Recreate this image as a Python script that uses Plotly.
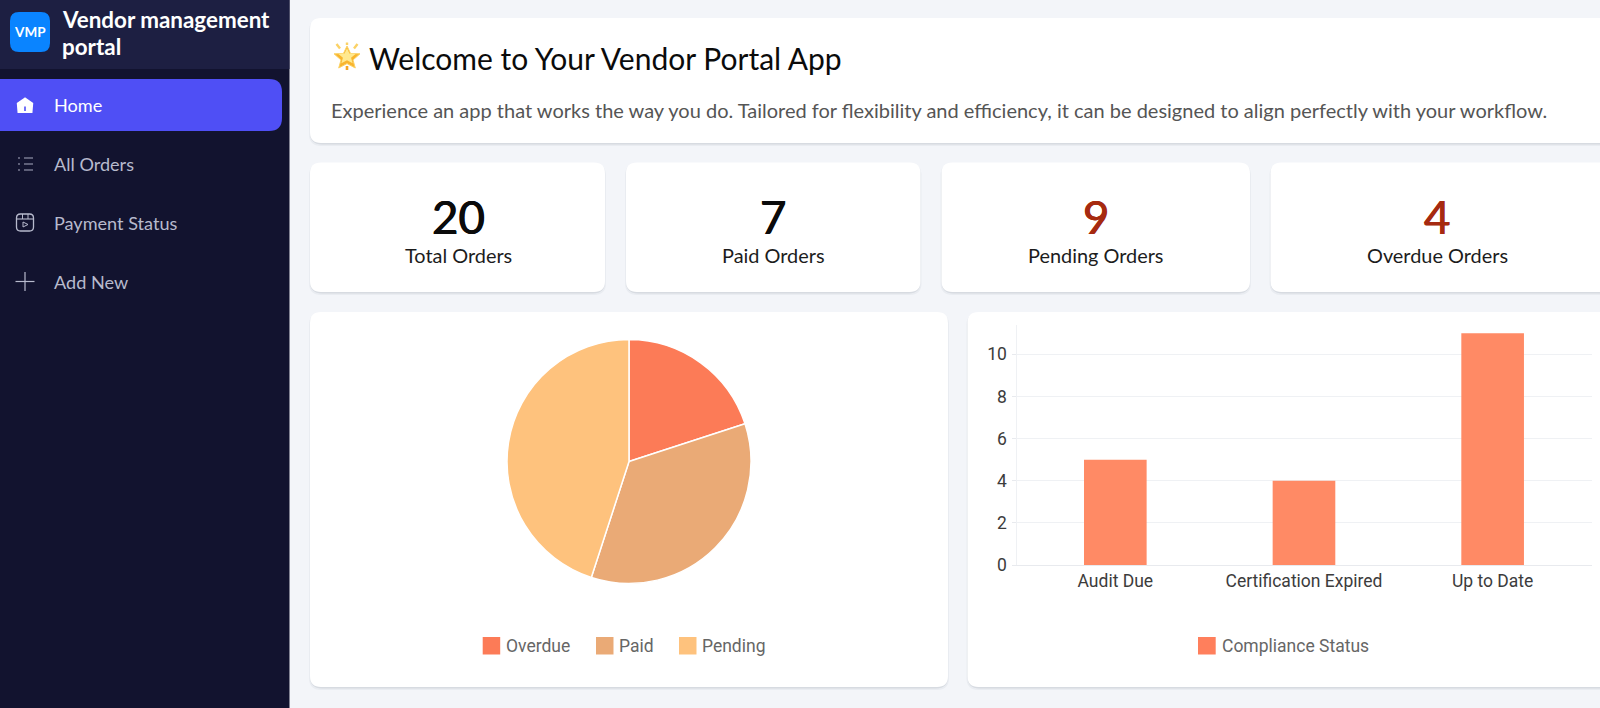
"""Vendor portal dashboard, drawn as a single plotly figure."""
import plotly.graph_objects as go

WIDTH = 1600
HEIGHT = 708

nav_labels = ['Home', 'All Orders', 'Payment Status', 'Add New']
stat_values = ['20', '7', '9', '4']
stat_labels = ['Total Orders', 'Paid Orders', 'Pending Orders', 'Overdue Orders']
stat_colors = ['#0b0b0b', '#0b0b0b', '#a62a10', '#a62a10']

status_labels = ['Overdue', 'Paid', 'Pending']
status_values = [4, 7, 9]
status_colors = ['#fc7b57', '#eaaa76', '#fec27d']

compliance_labels = ['Audit Due', 'Certification Expired', 'Up to Date']
compliance_values = [5, 4, 11]
compliance_name = 'Compliance Status'
BAR_COLOR = '#ff8a65'
LEGEND_BAR_COLOR = '#ff7f5c'

BG = '#f3f5f9'
SIDEBAR = '#12132f'
SIDEBAR_TOP = '#1d1f42'


def px(x):
    return x / WIDTH


def py(y):
    return 1 - y / HEIGHT


def round_rect(x0, y0, x1, y1, r):
    """SVG path of a rounded box, pixels in, paper fractions out"""
    pts = [('M', x0 + r, y0), ('L', x1 - r, y0), ('Q', x1, y0, x1, y0 + r),
           ('L', x1, y1 - r), ('Q', x1, y1, x1 - r, y1), ('L', x0 + r, y1),
           ('Q', x0, y1, x0, y1 - r), ('L', x0, y0 + r), ('Q', x0, y0, x0 + r, y0)]
    out = ''
    for p in pts:
        out += p[0]
        for i in range(1, len(p), 2):
            out += f'{px(p[i]):.5f},{py(p[i + 1]):.5f} '
    return out + 'Z'


def poly(points):
    return 'M' + ' L'.join(f'{px(x):.5f},{py(y):.5f}' for x, y in points) + ' Z'


shapes = []
notes = []


def fill_path(path, color, line=None, width=0):
    shapes.append(dict(type='path', path=path, xref='paper', yref='paper', fillcolor=color,
                       line=dict(color=line or color, width=width), layer='below'))


def box(x0, y0, x1, y1, color):
    shapes.append(dict(type='rect', xref='paper', yref='paper', x0=px(x0), x1=px(x1),
                       y0=py(y0), y1=py(y1), fillcolor=color, line_width=0, layer='below'))


def stroke(x0, y0, x1, y1, color, width=1.3):
    shapes.append(dict(type='line', xref='paper', yref='paper', x0=px(x0), x1=px(x1),
                       y0=py(y0), y1=py(y1), line=dict(color=color, width=width), layer='below'))


def text(x, y, s, size, color, font='Lato', anchor='left', weight=400, shadow='none'):
    notes.append(dict(x=px(x), y=py(y), xref='paper', yref='paper', text=s, showarrow=False,
                      xanchor=anchor, yanchor='middle', borderpad=0, borderwidth=0,
                      font=dict(family=font, size=size, color=color, weight=weight,
                                shadow=shadow)))


def card(x0, y0, x1, y1):
    # soft shadow under the card
    fill_path(round_rect(x0 - 1, y0 + 1, x1 + 1, y1 + 3, 12), 'rgba(60,70,90,0.05)')
    fill_path(round_rect(x0, y0 + 1, x1, y1 + 1.5, 12), 'rgba(60,70,90,0.10)')
    fill_path(round_rect(x0, y0, x1, y1, 11), '#ffffff')


def star_points(cx, cy, scale):
    base = [(0, -12), (3.6, -4.4), (13, -4.2), (6, 2), (8.3, 10), (0, 5.6),
            (-8.3, 10), (-6, 2), (-13, -4.2), (-3.6, -4.4)]
    return [(cx + a * scale, cy + b * scale) for a, b in base]


# sidebar
box(0, 0, 289.5, HEIGHT, SIDEBAR)
box(0, 0, 289.5, 69, SIDEBAR_TOP)
fill_path(round_rect(10, 12, 50, 52, 9), '#0a84ff')
text(30, 32.5, 'VMP', 13.5, '#ffffff', anchor='center', weight=700)
text(61.5, 20, 'Vendor management', 22.4, '#ffffff', weight=700)
text(61.5, 46.5, 'portal', 22.4, '#ffffff', weight=700)
fill_path(round_rect(-12, 79, 282, 131, 13), '#4f4ff5')

nav_y = [104.8, 163.6, 222.6, 281.6]
for label, y in zip(nav_labels, nav_y):
    text(54, y, label, 18.1, '#ffffff' if label == 'Home' else '#b7bacd')

# home icon
fill_path(poly([(25, 98.5), (17.8, 103.5), (18.5, 112), (31.5, 112), (32.2, 103.5)]), '#ffffff',
          '#ffffff', 2)
box(24.2, 106.5, 25.8, 111, '#4f4ff5')
# list icon
for row in (158, 164, 170):
    stroke(24, row, 33, row, '#a9acc2', 1)
    stroke(18, row, 20, row, '#a9acc2', 1.2)
# payment icon
fill_path(round_rect(16.5, 214, 33.5, 231, 4), 'rgba(0,0,0,0)', '#b7bacd', 1.3)
stroke(17, 219, 33, 219, '#b7bacd', 1.1)
stroke(22.5, 214, 22.5, 219, '#b7bacd', 1)
stroke(28, 214, 28, 219, '#b7bacd', 1)
fill_path(poly([(23, 222), (28, 224.5), (23, 227)]), 'rgba(0,0,0,0)', '#b7bacd', 1)
# plus icon
stroke(25, 272, 25, 291, '#b7bacd', 1.2)
stroke(15.5, 281.5, 34.5, 281.5, '#b7bacd', 1.2)

# banner
card(310, 18, 1640, 143)
fill_path(poly(star_points(347, 58, 1)), '#f9b52e', '#fbd266', 1)
fill_path(poly(star_points(347, 56.5, 0.68)), '#ffe98f')
for a, b, c, d in [(336.5, 44, 340, 48.5), (357.5, 44, 354, 48.5), (347, 42.5, 347, 45)]:
    stroke(a, b, c, d, '#fbd266', 2.4)
stroke(347, 66, 347, 70, '#f5a623', 2.6)
text(369, 58, 'Welcome to Your Vendor Portal App', 30, '#0b0b0b')
text(331, 109.5, 'Experience an app that works the way you do. Tailored for flexibility and '
     'efficiency, it can be designed to align perfectly with your workflow.', 20, '#555555')

# stat cards
stat_edges = [(310, 605), (626, 920.5), (941.5, 1250), (1270.5, 1640)]
stat_centers = [458, 773, 1095.5, 1437]
for (x0, x1), cx, value, label, color in zip(stat_edges, stat_centers, stat_values, stat_labels,
                                            stat_colors):
    card(x0, 162.5, x1, 292)
    text(cx, 217, value, 45.5, color, anchor='center',
         shadow=f'0.5px 0 0 {color}, -0.5px 0 0 {color}')
    text(cx, 255.5, label, 19.9, '#1c1c1c', anchor='center')

# chart cards
card(310, 312, 948, 687)
card(967.5, 312, 1640, 687)

# legends, the swatches are bigger than what plotly's own legend can do
pie_legend_x = [482.7, 596, 679]
for x, label, color in zip(pie_legend_x, status_labels, status_colors):
    box(x, 637, x + 17.5, 654.5, color)
    text(x + 23.3, 645.5, label, 17.5, '#666666', font='Roboto')
box(1198, 637, 1215.7, 654.5, LEGEND_BAR_COLOR)
text(1222, 645.5, compliance_name, 17.5, '#666666', font='Roboto')

fig = go.Figure()
fig.add_trace(go.Pie(labels=status_labels, values=status_values, sort=False,
                     direction='clockwise', rotation=0, textinfo='none', showlegend=False,
                     marker=dict(colors=status_colors, line=dict(color='#ffffff', width=1.5)),
                     domain=dict(x=[px(507), px(751)], y=[py(583.5), py(339.5)])))
fig.add_trace(go.Bar(x=compliance_labels, y=compliance_values, name=compliance_name, width=0.332,
                     marker=dict(color=BAR_COLOR, line_width=0), showlegend=False))

fig.update_xaxes(domain=[px(1017.4), px(1591.5)], range=[-0.519, 2.524], showgrid=False,
                 automargin=False, showline=True, linecolor='#e8eaee', linewidth=1, ticks='',
                 zeroline=False, tickfont=dict(family='Roboto', size=17.5, color='#3c3c3c'))
fig.update_yaxes(domain=[py(565), py(325)], range=[0, 11.39], dtick=2, showgrid=True,
                 automargin=False, gridcolor='#eff1f4', gridwidth=1, zeroline=False,
                 showline=True, linecolor='#eff1f4', linewidth=1, ticks='outside', ticklen=4,
                 ticklabelstandoff=2, tickcolor='#e8eaee',
                 tickfont=dict(family='Roboto', size=17.5, color='#3c3c3c'))

fig.update_layout(width=WIDTH, height=HEIGHT, margin=dict(l=0, r=0, t=0, b=0, pad=0),
                  autosize=False, paper_bgcolor=BG, plot_bgcolor='rgba(0,0,0,0)', shapes=shapes,
                  annotations=notes, hovermode='closest')

fig.write_html('out.html', config={'displayModeBar': False},
               post_script="document.body.style.margin='0';document.body.style.overflow='hidden';")
